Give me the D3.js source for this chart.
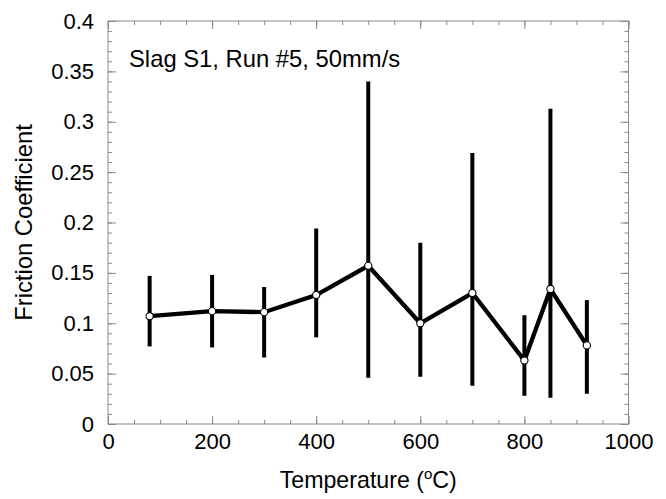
<html>
<head>
	<title>friction coefficient</title>
	<style>
		body {
			margin: 0;
			padding: 0;
			background: #fff;
		}
		svg text {
			font-family: "Liberation Sans", Arial, Helvetica, sans-serif;
			fill: #000;
		}
		.axis .domain {
			display: none;
		}
		.axis .tick line {
			stroke: #888;
			stroke-width: 1;
		}
		.axis .tick text {
			font-size: 22px;
		}
	</style>
</head>
<body>
	<svg width="666" height="499"></svg>

	<script src="https://d3js.org/d3.v7.min.js"></script>
	<script>

		// dati
		var temps = [80, 200, 300, 400, 500, 600, 700, 800, 850, 920];
		var means = [0.107, 0.112, 0.111, 0.128, 0.157, 0.100, 0.130, 0.063, 0.134, 0.078];
		var upper = [0.147, 0.148, 0.136, 0.194, 0.340, 0.180, 0.269, 0.108, 0.313, 0.123];
		var lower = [0.077, 0.076, 0.066, 0.086, 0.046, 0.047, 0.038, 0.028, 0.026, 0.030];

		var xMajor = [0, 200, 400, 600, 800, 1000];
		var yMajor = [0, 0.05, 0.1, 0.15, 0.2, 0.25, 0.3, 0.35, 0.4];

		var titleText = "Slag S1, Run #5, 50mm/s";
		var yLabel = "Friction Coefficient";

		var margin = {top: 21, right: 37.5, bottom: 75, left: 108};
		var width = 666 - margin.left - margin.right;
		var height = 499 - margin.top - margin.bottom;

		var svg = d3.select("svg");
		var g = svg.append("g")
			.attr("transform", "translate(" + margin.left + "," + margin.top + ")");

		var x = d3.scaleLinear().domain([0, 1000]).range([0, width]);
		var y = d3.scaleLinear().domain([0, 0.4]).range([height, 0]);

		var xMinor = d3.range(0, 1001, 50);
		var yMinor = d3.range(0, 41, 1).map(function(d){ return d / 100 });

		var xFormat = function(d) { return String(d) };
		var yFormat = function(d) {
			return d === 0 ? "0" : String(+d.toFixed(2));
		};

		// tacche minori (verso l'interno)
		g.append("g").attr("class", "axis")
			.attr("transform", "translate(0," + height + ")")
			.call(d3.axisBottom(x).tickValues(xMinor).tickSize(-4).tickFormat(""));
		g.append("g").attr("class", "axis")
			.call(d3.axisTop(x).tickValues(xMinor).tickSize(-4).tickFormat(""));
		g.append("g").attr("class", "axis")
			.call(d3.axisLeft(y).tickValues(yMinor).tickSize(-4).tickFormat(""));
		g.append("g").attr("class", "axis")
			.attr("transform", "translate(" + width + ",0)")
			.call(d3.axisRight(y).tickValues(yMinor).tickSize(-4).tickFormat(""));

		// tacche maggiori con etichette
		g.append("g").attr("class", "axis")
			.attr("transform", "translate(0," + height + ")")
			.call(d3.axisBottom(x).tickValues(xMajor).tickSize(-8).tickPadding(9).tickFormat(xFormat));
		g.append("g").attr("class", "axis")
			.call(d3.axisTop(x).tickValues(xMajor).tickSize(-8).tickFormat(""));
		g.append("g").attr("class", "axis")
			.call(d3.axisLeft(y).tickValues(yMajor).tickSize(-8).tickPadding(14).tickFormat(yFormat));
		g.append("g").attr("class", "axis")
			.attr("transform", "translate(" + width + ",0)")
			.call(d3.axisRight(y).tickValues(yMajor).tickSize(-8).tickFormat(""));

		// cornice
		g.append("rect")
			.attr("x", 0).attr("y", 0)
			.attr("width", width).attr("height", height)
			.attr("fill", "none")
			.attr("stroke", "#888")
			.attr("stroke-width", 1);

		var data = temps.map(function(t, i) {
			return {t: t, m: means[i], hi: upper[i], lo: lower[i]};
		});

		// barre d'errore
		g.selectAll(".err")
			.data(data)
			.enter()
			.append("line")
			.attr("class", "err")
			.attr("x1", function(d){ return x(d.t) })
			.attr("x2", function(d){ return x(d.t) })
			.attr("y1", function(d){ return y(d.hi) })
			.attr("y2", function(d){ return y(d.lo) })
			.attr("stroke", "#000")
			.attr("stroke-width", 4);

		var line = d3.line()
			.x(function(d){ return x(d.t) })
			.y(function(d){ return y(d.m) });

		g.append("path")
			.datum(data)
			.attr("d", line)
			.attr("fill", "none")
			.attr("stroke", "#000")
			.attr("stroke-width", 4.3)
			.attr("stroke-linejoin", "miter");

		g.selectAll(".pt")
			.data(data)
			.enter()
			.append("circle")
			.attr("class", "pt")
			.attr("cx", function(d){ return x(d.t) })
			.attr("cy", function(d){ return y(d.m) })
			.attr("r", 3.6)
			.attr("fill", "#fff")
			.attr("stroke", "#000")
			.attr("stroke-width", 1.1);

		// testi
		g.append("text")
			.attr("x", 21)
			.attr("y", 46)
			.style("font-size", "23.8px")
			.text(titleText);

		svg.append("text")
			.attr("transform", "translate(32," + (margin.top + height / 2) + ") rotate(-90)")
			.attr("text-anchor", "middle")
			.style("font-size", "23.8px")
			.text(yLabel);

		var xl = svg.append("text")
			.attr("x", margin.left + width / 2)
			.attr("y", 488)
			.attr("text-anchor", "middle")
			.style("font-size", "23.2px");
		xl.append("tspan").text("Temperature (");
		xl.append("tspan").attr("dy", -9).style("font-size", "15px").text("o");
		xl.append("tspan").attr("dy", 9).text("C)");

	</script>
</body>
</html>
